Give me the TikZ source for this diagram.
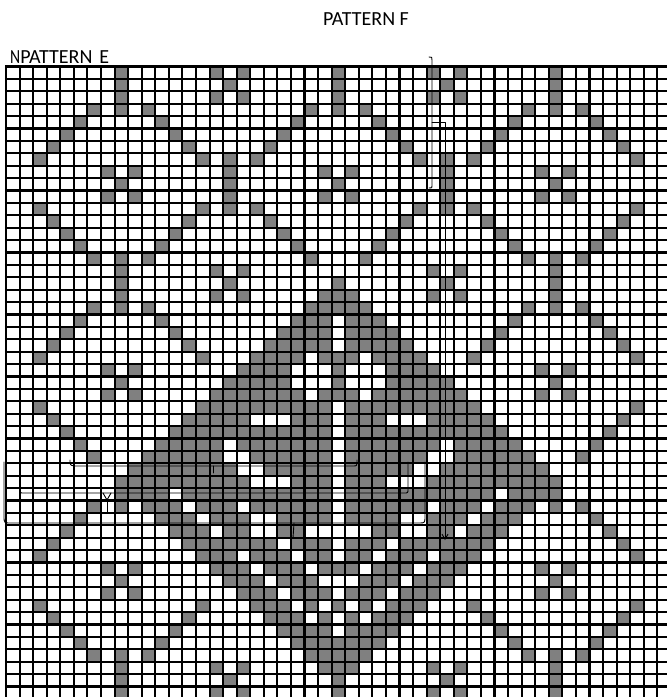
\documentclass[tikz,border=0pt]{standalone}
\usepackage{fontspec}
\setmainfont{Carlito}
\usetikzlibrary{arrows.meta}
\definecolor{cellgray}{RGB}{128,128,128}
\begin{document}
\begin{tikzpicture}[x=1pt,y=-1pt,
  gridline/.style={line width=2.1pt,black},
  cellfill/.style={fill=cellgray},
  annot/.style={line width=0.9pt,black,line cap=round,line join=round},
  lbl/.style={font=\fontsize{20}{22}\selectfont,inner sep=0pt}]
\useasboundingbox (0,0) rectangle (667,697);
\fill[white] (0,0) rectangle (667,697);
% background lattice, one list per row modulo 16
\expandafter\def\csname lat0\endcsname{8,24,40,15,31,17,33}
\expandafter\def\csname lat1\endcsname{8,24,40,16,32}
\expandafter\def\csname lat2\endcsname{8,24,40,15,31,17,33}
\expandafter\def\csname lat3\endcsname{6,8,10,22,24,26,38,40,42}
\expandafter\def\csname lat4\endcsname{5,11,21,27,37,43}
\expandafter\def\csname lat5\endcsname{4,12,20,28,36,44}
\expandafter\def\csname lat6\endcsname{3,13,19,29,35,45}
\expandafter\def\csname lat7\endcsname{2,14,18,30,34,46,16,32}
\expandafter\def\csname lat8\endcsname{16,32,7,9,23,25,39,41}
\expandafter\def\csname lat9\endcsname{16,32,8,24,40}
\expandafter\def\csname lat10\endcsname{16,32,7,9,23,25,39,41}
\expandafter\def\csname lat11\endcsname{2,14,18,30,34,46,16,32}
\expandafter\def\csname lat12\endcsname{3,13,19,29,35,45}
\expandafter\def\csname lat13\endcsname{4,12,20,28,36,44}
\expandafter\def\csname lat14\endcsname{5,11,21,27,37,43}
\expandafter\def\csname lat15\endcsname{6,8,10,22,24,26,38,40,42}
% lattice cells removed next to the central motif
\foreach \p in {15-24,16-24,23-16,24-16,23-32,24-32,31-8,32-8,31-40,32-40,42-16,43-16,42-32,43-32}{
  \expandafter\gdef\csname rm-\p\endcsname{}}
% white cells inside the central diamond
\def\Wrow#1#2{\foreach \x in {#2}{\expandafter\gdef\csname w-#1-\x\endcsname{}}}
\Wrow{20}{24}\Wrow{21}{24}\Wrow{22}{24}
\Wrow{23}{22,26}
\Wrow{24}{21,22,23,25,26,27}
\Wrow{25}{21,22,23,25,26,27}
\Wrow{26}{22,26}
\Wrow{27}{24}
\Wrow{28}{18,19,20,24,28,29,30}
\Wrow{29}{24}
\Wrow{30}{16,24,32}
\Wrow{31}{16,17,24,31,32}
\Wrow{32}{17,18,24,30,31}
\Wrow{33}{18,19,20,24,28,29,30}
\Wrow{34}{12,24,36}
\Wrow{35}{13,17,24,31,35}
\Wrow{36}{14,18,19,24,29,30,34}
\Wrow{37}{15,18,19,22,23,24,25,26,29,30,33}
\Wrow{38}{20,24,28}
\Wrow{39}{17,21,24,27,31}
\Wrow{40}{18,22,26,30}
\Wrow{41}{19,23,24,25,29}
\Wrow{42}{20,24,28}
\Wrow{43}{21,23,25,27}
\Wrow{44}{22,24,26}
\Wrow{45}{24}
\foreach \r in {0,...,50}{
  \pgfmathtruncatemacro\m{mod(\r,16)}
  \pgfmathtruncatemacro\h{\r<=33 ? \r-17 : 49-\r}
  \edef\cl{\csname lat\m\endcsname}
  \foreach \c in \cl {
    \pgfmathtruncatemacro\dd{abs(\c-24)}
    \ifnum\dd>\h
      \ifcsname rm-\r-\c\endcsname\else
        \fill[cellfill] ({6+\c*13.57},{66.5+\r*12.4}) rectangle ++(13.57,12.4);
      \fi
    \fi
  }
  \ifnum\h>-1
    \pgfmathtruncatemacro\lo{24-\h}
    \pgfmathtruncatemacro\hi{24+\h}
    \foreach \c in {\lo,...,\hi}{
      \ifcsname w-\r-\c\endcsname\else
        \fill[cellfill] ({6+\c*13.57},{66.5+\r*12.4}) rectangle ++(13.57,12.4);
      \fi
    }
  \fi
}
\foreach \c in {0,...,48}{
  \draw[gridline] ({6+\c*13.57},65.4) -- ({6+\c*13.57},700);
}
\foreach \r in {0,...,50}{
  \draw[gridline] (4.9,{66.5+\r*12.4}) -- (670,{66.5+\r*12.4});
}
% labels
\node[lbl,anchor=base] (pf) at (366,25) {PATTERN F};
\node[lbl,anchor=base west] (pe) at (10,63) {\scalebox{0.78}[1]{N}PATTERN\hspace{7pt}E};
% right bracket and arrow
\coordinate (rbt) at (432,60);
\coordinate (rbm) at (432,122);
\coordinate (rbb) at (432,186);
\coordinate (arrE) at (445,540);
\draw[annot] (429,57) .. controls (432,57) .. (rbt) -- (rbb) .. controls (432,188) .. (429,188);
\draw[annot,-{Straight Barb[length=5pt,width=6pt]}] (rbm) -- (445,122) -- (arrE);
% brace 1
\coordinate (b1c) at (213,473);
\draw[annot] (70,460) .. controls (70,465) .. (74,466) -- (353,466) .. controls (357,466) .. (357,460);
\draw[annot] (213,466) -- (b1c);
% brace 2
\coordinate (b2c) at (107,512);
\draw[annot] (20,465) -- (20,489) .. controls (20,493) .. (24,493) -- (404,493) .. controls (408,493) .. (408,489) -- (408,462);
\draw[annot] (103,493) -- (107,500) -- (111,493);
\draw[annot] (107,500) -- (b2c);
% brace 3
\coordinate (b3c) at (293,538);
\draw[annot] (4,462) -- (4,516) .. controls (4,523) .. (11,523) -- (419,523) .. controls (425,523) .. (425,516) -- (425,462);
\draw[annot] (294,523) -- (b3c);
\end{tikzpicture}
\end{document}
